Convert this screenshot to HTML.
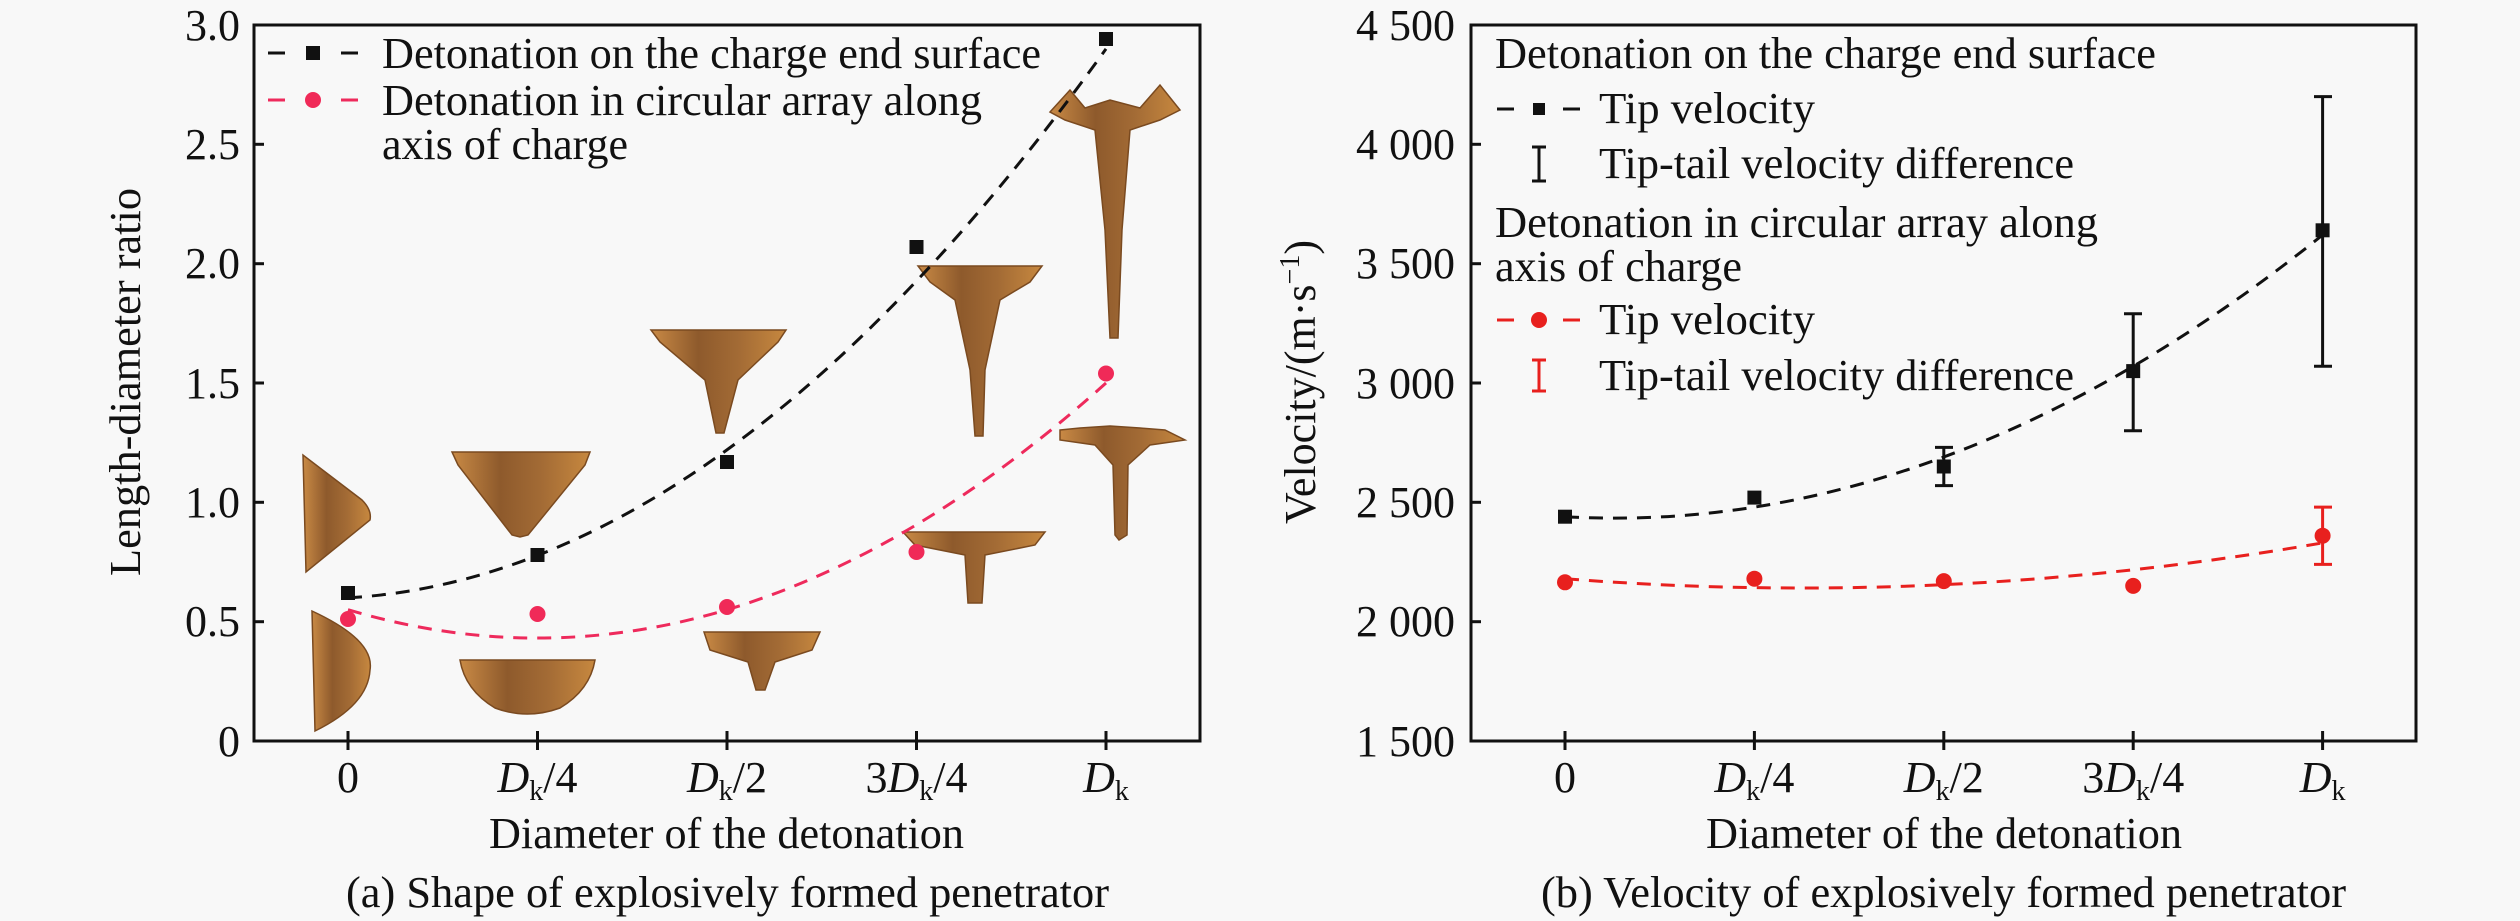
<!DOCTYPE html>
<html><head><meta charset="utf-8"><style>
html,body{margin:0;padding:0;background:#f8f8f8}
svg{display:block}
text{fill:#111}
.t40{font:44px "Liberation Serif",serif}
.t44{font:44px "Liberation Serif",serif}
.t46{font:44px "Liberation Serif",serif}
</style></head><body>
<svg width="2520" height="921" viewBox="0 0 2520 921" xmlns="http://www.w3.org/2000/svg">
<defs>
<linearGradient id="br" x1="0" x2="1" y1="0" y2="0">
<stop offset="0" stop-color="#c98a45"/><stop offset="0.35" stop-color="#8e5a2c"/><stop offset="0.65" stop-color="#a36b35"/><stop offset="1" stop-color="#c7883f"/>
</linearGradient>
</defs>
<rect width="2520" height="921" fill="#f8f8f8"/>

<g fill="url(#br)" stroke="#7a4a20" stroke-width="1.5">
<path d="M303,455 L306,572 L370,520 Q372,510 362,500 Z"/>
<path d="M312,611 Q375,640 370,670 Q368,705 315,731 Z"/>
<path d="M452,452 L590,452 L585,465 L528,535 L520,537 L512,535 L458,465 Z"/>
<path d="M460,660 L595,660 Q590,690 560,708 Q527,720 495,708 Q465,690 460,660 Z"/>
<path d="M651,330 L786,330 L778,342 L738,380 L724,433 L716,433 L705,380 L660,342 Z"/>
<path d="M704,632 L820,632 L812,650 L775,662 L765,690 L756,690 L748,662 L710,650 Z"/>
<path d="M918,266 L1042,266 L1030,282 L1000,300 L985,370 L983,436 L975,436 L970,370 L955,300 L930,282 Z"/>
<path d="M903,532 L1045,532 L1035,545 L985,555 L982,603 L968,603 L965,555 L915,545 Z"/>
<path d="M1050,112 L1070,90 L1085,108 L1110,100 L1140,108 L1160,85 L1180,110 L1160,120 L1130,130 L1122,230 L1118,338 L1110,338 L1105,230 L1095,130 L1065,120 Z"/>
<path d="M1060,430 L1080,428 L1110,426 L1140,428 L1165,430 L1185,440 L1150,445 L1128,465 L1127,535 L1119,540 L1115,535 L1113,465 L1095,445 L1060,440 Z"/>
</g>

<path d="M348,597.8 Q727,576.3 1106,48.9" fill="none" stroke="#111" stroke-width="3" stroke-dasharray="14,10"/>
<path d="M348,609.7 Q727,723.1 1106,383" fill="none" stroke="#ee2a5c" stroke-width="3" stroke-dasharray="14,10"/>
<g fill="#111">
<rect x="341" y="586" width="14" height="14"/><rect x="530.5" y="548" width="14" height="14"/><rect x="720" y="455" width="14" height="14"/><rect x="909.5" y="240" width="14" height="14"/><rect x="1099" y="32" width="14" height="14"/>
</g>
<g fill="#f02a58">
<circle cx="348" cy="619" r="8"/><circle cx="537.5" cy="614" r="8"/><circle cx="727" cy="607" r="8"/><circle cx="916.5" cy="552" r="8"/><circle cx="1106" cy="373.5" r="8"/>
</g>

<rect x="254" y="25" width="946" height="716" fill="none" stroke="#111" stroke-width="3"/>
<g stroke="#111" stroke-width="3">
<line x1="254" y1="25" x2="264" y2="25"/><line x1="254" y1="144.3" x2="264" y2="144.3"/><line x1="254" y1="263.7" x2="264" y2="263.7"/><line x1="254" y1="383" x2="264" y2="383"/><line x1="254" y1="502.3" x2="264" y2="502.3"/><line x1="254" y1="621.7" x2="264" y2="621.7"/>
<line x1="348" y1="731" x2="348" y2="750"/><line x1="537.5" y1="731" x2="537.5" y2="750"/><line x1="727" y1="731" x2="727" y2="750"/><line x1="916.5" y1="731" x2="916.5" y2="750"/><line x1="1106" y1="731" x2="1106" y2="750"/>
</g>
<text class="t40" text-anchor="end" x="240" y="40">3.0</text>
<text class="t40" text-anchor="end" x="240" y="159">2.5</text>
<text class="t40" text-anchor="end" x="240" y="278">2.0</text>
<text class="t40" text-anchor="end" x="240" y="398">1.5</text>
<text class="t40" text-anchor="end" x="240" y="517">1.0</text>
<text class="t40" text-anchor="end" x="240" y="636">0.5</text>
<text class="t40" text-anchor="end" x="240" y="756">0</text>

<text class="t40" text-anchor="middle" x="348" y="792">0</text>
<text class="t40" text-anchor="middle" x="537.5" y="792"><tspan font-style="italic">D</tspan><tspan font-size="28" dy="8">k</tspan><tspan dy="-8">/4</tspan></text>
<text class="t40" text-anchor="middle" x="727" y="792"><tspan font-style="italic">D</tspan><tspan font-size="28" dy="8">k</tspan><tspan dy="-8">/2</tspan></text>
<text class="t40" text-anchor="middle" x="916.5" y="792">3<tspan font-style="italic">D</tspan><tspan font-size="28" dy="8">k</tspan><tspan dy="-8">/4</tspan></text>
<text class="t40" text-anchor="middle" x="1106" y="792"><tspan font-style="italic">D</tspan><tspan font-size="28" dy="8">k</tspan></text>

<text class="t44" x="489" y="848" textLength="475" lengthAdjust="spacingAndGlyphs">Diameter of the detonation</text>
<text class="t44" x="346" y="907" textLength="763" lengthAdjust="spacingAndGlyphs">(a) Shape of explosively formed penetrator</text>
<text class="t44" transform="translate(140,382) rotate(-90)" text-anchor="middle" textLength="388" lengthAdjust="spacingAndGlyphs">Length-diameter ratio</text>

<g stroke-width="3">
<line x1="268" y1="53" x2="285" y2="53" stroke="#111"/><line x1="341" y1="53" x2="358" y2="53" stroke="#111"/>
<line x1="268" y1="100" x2="285" y2="100" stroke="#ee2a5c"/><line x1="341" y1="100" x2="358" y2="100" stroke="#ee2a5c"/>
</g>
<rect x="306" y="46" width="14" height="14" fill="#111"/>
<circle cx="313" cy="100" r="8" fill="#f02a58"/>
<text class="t46" x="382" y="68" textLength="659" lengthAdjust="spacingAndGlyphs">Detonation on the charge end surface</text>
<text class="t46" x="382" y="115" textLength="600" lengthAdjust="spacingAndGlyphs">Detonation in circular array along</text>
<text class="t46" x="382" y="159" textLength="246" lengthAdjust="spacingAndGlyphs">axis of charge</text>

<!-- RIGHT -->
<path d="M1565,516.7 Q1943.8,538.1 2322.6,235" fill="none" stroke="#111" stroke-width="3" stroke-dasharray="14,10"/>
<path d="M1565,578.7 Q1943.8,608.5 2322.6,542.9" fill="none" stroke="#e8201e" stroke-width="3" stroke-dasharray="14,10"/>
<g stroke="#111" stroke-width="3">
<line x1="1943.8" y1="485.6" x2="1943.8" y2="447.4"/><line x1="1935" y1="485.6" x2="1953" y2="485.6"/><line x1="1935" y1="447.4" x2="1953" y2="447.4"/>
<line x1="2133.2" y1="430.7" x2="2133.2" y2="313.8"/><line x1="2124" y1="430.7" x2="2142" y2="430.7"/><line x1="2124" y1="313.8" x2="2142" y2="313.8"/>
<line x1="2322.6" y1="366.3" x2="2322.6" y2="96.6"/><line x1="2314" y1="366.3" x2="2332" y2="366.3"/><line x1="2314" y1="96.6" x2="2332" y2="96.6"/>
</g>
<g stroke="#e8201e" stroke-width="3">
<line x1="2322.6" y1="564.4" x2="2322.6" y2="507.1"/><line x1="2314" y1="564.4" x2="2332" y2="564.4"/><line x1="2314" y1="507.1" x2="2332" y2="507.1"/>
</g>
<g fill="#111">
<rect x="1558" y="509.7" width="14" height="14"/><rect x="1747.4" y="490.6" width="14" height="14"/><rect x="1936.8" y="459.5" width="14" height="14"/><rect x="2126.2" y="364.1" width="14" height="14"/><rect x="2315.6" y="223.3" width="14" height="14"/>
</g>
<g fill="#e8201e">
<circle cx="1565" cy="582.3" r="8"/><circle cx="1754.4" cy="578.7" r="8"/><circle cx="1943.8" cy="581.1" r="8"/><circle cx="2133.2" cy="585.9" r="8"/><circle cx="2322.6" cy="535.7" r="8"/>
</g>

<rect x="1471" y="25" width="945" height="716" fill="none" stroke="#111" stroke-width="3"/>
<g stroke="#111" stroke-width="3">
<line x1="1471" y1="144.3" x2="1481" y2="144.3"/><line x1="1471" y1="263.7" x2="1481" y2="263.7"/><line x1="1471" y1="383" x2="1481" y2="383"/><line x1="1471" y1="502.3" x2="1481" y2="502.3"/><line x1="1471" y1="621.7" x2="1481" y2="621.7"/>
<line x1="1565" y1="731" x2="1565" y2="750"/><line x1="1754.4" y1="731" x2="1754.4" y2="750"/><line x1="1943.8" y1="731" x2="1943.8" y2="750"/><line x1="2133.2" y1="731" x2="2133.2" y2="750"/><line x1="2322.6" y1="731" x2="2322.6" y2="750"/>
</g>
<text class="t40" text-anchor="end" x="1455" y="40" textLength="99" lengthAdjust="spacingAndGlyphs">4 500</text>
<text class="t40" text-anchor="end" x="1455" y="159" textLength="99" lengthAdjust="spacingAndGlyphs">4 000</text>
<text class="t40" text-anchor="end" x="1455" y="278" textLength="99" lengthAdjust="spacingAndGlyphs">3 500</text>
<text class="t40" text-anchor="end" x="1455" y="398" textLength="99" lengthAdjust="spacingAndGlyphs">3 000</text>
<text class="t40" text-anchor="end" x="1455" y="517" textLength="99" lengthAdjust="spacingAndGlyphs">2 500</text>
<text class="t40" text-anchor="end" x="1455" y="636" textLength="99" lengthAdjust="spacingAndGlyphs">2 000</text>
<text class="t40" text-anchor="end" x="1455" y="756" textLength="99" lengthAdjust="spacingAndGlyphs">1 500</text>

<text class="t40" text-anchor="middle" x="1565" y="792">0</text>
<text class="t40" text-anchor="middle" x="1754.4" y="792"><tspan font-style="italic">D</tspan><tspan font-size="28" dy="8">k</tspan><tspan dy="-8">/4</tspan></text>
<text class="t40" text-anchor="middle" x="1943.8" y="792"><tspan font-style="italic">D</tspan><tspan font-size="28" dy="8">k</tspan><tspan dy="-8">/2</tspan></text>
<text class="t40" text-anchor="middle" x="2133.2" y="792">3<tspan font-style="italic">D</tspan><tspan font-size="28" dy="8">k</tspan><tspan dy="-8">/4</tspan></text>
<text class="t40" text-anchor="middle" x="2322.6" y="792"><tspan font-style="italic">D</tspan><tspan font-size="28" dy="8">k</tspan></text>

<text class="t44" x="1706" y="848" textLength="476" lengthAdjust="spacingAndGlyphs">Diameter of the detonation</text>
<text class="t44" x="1541" y="907" textLength="805" lengthAdjust="spacingAndGlyphs">(b) Velocity of explosively formed penetrator</text>
<text class="t44" transform="translate(1315,382) rotate(-90)" text-anchor="middle">Velocity/(m·s<tspan font-size="28" dy="-16">−1</tspan><tspan dy="16">)</tspan></text>

<g stroke-width="3">
<line x1="1497" y1="109" x2="1514" y2="109" stroke="#111"/><line x1="1563" y1="109" x2="1580" y2="109" stroke="#111"/>
<line x1="1539" y1="147" x2="1539" y2="181" stroke="#111"/><line x1="1532" y1="147" x2="1546" y2="147" stroke="#111"/><line x1="1532" y1="181" x2="1546" y2="181" stroke="#111"/>
<line x1="1497" y1="320" x2="1514" y2="320" stroke="#e8201e"/><line x1="1563" y1="320" x2="1580" y2="320" stroke="#e8201e"/>
<line x1="1539" y1="360" x2="1539" y2="391" stroke="#e8201e"/><line x1="1532" y1="360" x2="1546" y2="360" stroke="#e8201e"/><line x1="1532" y1="391" x2="1546" y2="391" stroke="#e8201e"/>
</g>
<rect x="1533" y="103" width="12" height="12" fill="#111"/>
<circle cx="1539" cy="320" r="8" fill="#e8201e"/>
<text class="t46" x="1495" y="68" textLength="661" lengthAdjust="spacingAndGlyphs">Detonation on the charge end surface</text>
<text class="t46" x="1599" y="123" textLength="216" lengthAdjust="spacingAndGlyphs">Tip velocity</text>
<text class="t46" x="1599" y="178" textLength="475" lengthAdjust="spacingAndGlyphs">Tip-tail velocity difference</text>
<text class="t46" x="1495" y="237" textLength="603" lengthAdjust="spacingAndGlyphs">Detonation in circular array along</text>
<text class="t46" x="1495" y="281" textLength="247" lengthAdjust="spacingAndGlyphs">axis of charge</text>
<text class="t46" x="1599" y="334" textLength="216" lengthAdjust="spacingAndGlyphs">Tip velocity</text>
<text class="t46" x="1599" y="390" textLength="475" lengthAdjust="spacingAndGlyphs">Tip-tail velocity difference</text>
</svg>
</body></html>
